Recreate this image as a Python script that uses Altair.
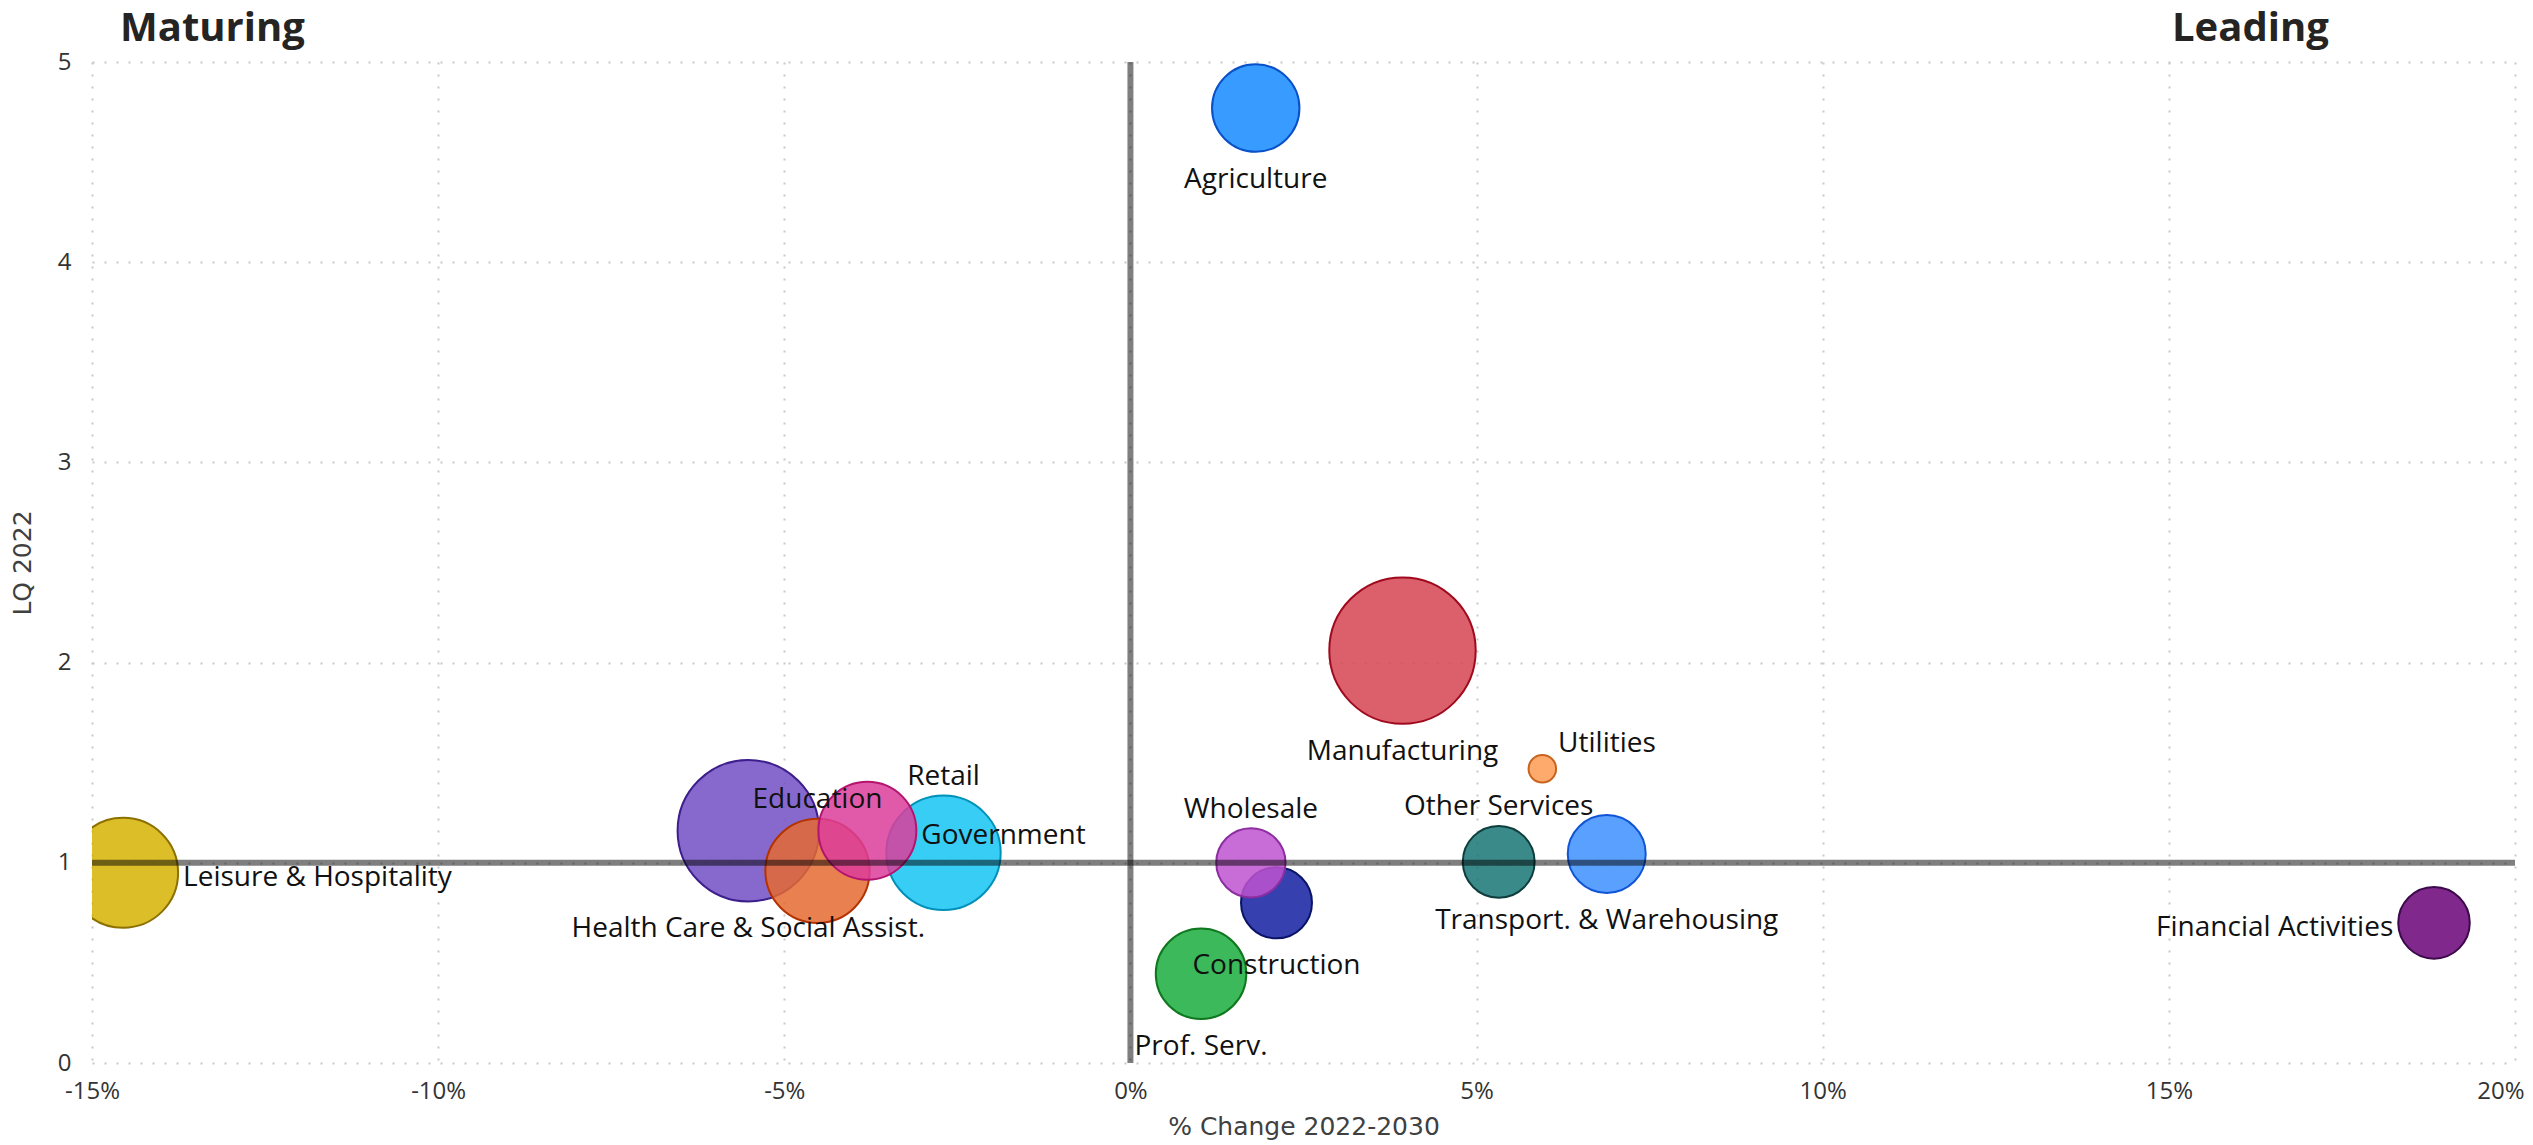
import math
import altair as alt
import pandas as pd

# ---------------- data ----------------
industries = [
    "Agriculture", "Manufacturing", "Utilities", "Other Services",
    "Transport. & Warehousing", "Financial Activities", "Construction",
    "Wholesale", "Prof. Serv.", "Health Care & Social Assist.", "Education",
    "Government", "Retail", "Leisure & Hospitality",
]
pct_change = [1.81, 3.93, 5.95, 5.32, 6.88, 18.83, 2.11, 1.74, 1.02,
              -5.52, -4.52, -3.80, -2.70, -14.55]
lq_2022 = [4.77, 2.06, 1.47, 1.005, 1.044, 0.70, 0.80, 1.00, 0.446,
           1.16, 0.96, 1.16, 1.05, 0.95]
employment = [19100, 53600, 1900, 12900, 15200, 12800, 12600, 12000, 20500,
              50000, 27200, 24000, 32700, 30200]
label_side = ["below", "below", "above-right", "above", "below", "left",
              "below", "above", "below", "below", "above", "right", "above",
              "right"]
fill_seen = ["#379BFF", "#DC606B", "#FFAA6E", "#3A8A8A", "#5AA0FF", "#80288C",
             "#3741AF", "#C86ED7", "#3CB95A", "#8769CD", "#E88050", "#E15AAA",
             "#37CDF5", "#DCBE28"]
stroke_hex = ["#0A50C8", "#A00A1E", "#C8641E", "#0F3C3C", "#1055D5", "#3C0A4B",
              "#0A1466", "#8C2DA0", "#0F781E", "#3C1E8C", "#B43200", "#B4146E",
              "#0091B9", "#8C7000"]
x_ticks = [-15, -10, -5, 0, 5, 10, 15, 20]
y_ticks = [0, 1, 2, 3, 4, 5]
quadrant_names = ["Maturing", "Leading"]
ref_x = [0]
ref_y = [1]

# ---------------- layout / style ----------------
W, H = 2423, 1001
MAX_R = 73.2
FILL_OPACITY = 0.85
LABEL_FONT = "Open Sans"
LABEL_SIZE = 28
TICK_SIZE_FONT = 24
TITLE_FONT = "DejaVu Sans"
TITLE_SIZE = 25


def base_color(hex_seen, a=FILL_OPACITY):
    h = hex_seen.lstrip("#")
    rgb = [int(h[i:i + 2], 16) for i in (0, 2, 4)]
    out = [max(0, min(255, round((c - 255 * (1 - a)) / a))) for c in rgb]
    return "#%02X%02X%02X" % tuple(out)


max_emp = max(employment)
size_max = (2 * MAX_R) ** 2

rows = []
for i, name in enumerate(industries):
    r = MAX_R * math.sqrt(employment[i] / max_emp)
    side = label_side[i]
    if side == "below":
        al, dx, dy = "center", 0, r + 36
    elif side == "above":
        al, dx, dy = "center", 0, -(r + 10.5)
    elif side == "right":
        al, dx, dy = "left", r + 5, 13
    elif side == "left":
        al, dx, dy = "right", -(r + 5), 13
    else:  # above-right
        al, dx, dy = "left", r + 2, -(r + 2.5)
    rows.append({
        "industry": name,
        "pct": pct_change[i],
        "lq": lq_2022[i],
        "employment": employment[i],
        "fill": base_color(fill_seen[i]),
        "stroke": stroke_hex[i],
        "lbl_align": al,
        "lbl_dx": dx,
        "lbl_dy": dy,
    })
df = pd.DataFrame(rows)

xscale = alt.Scale(domain=[x_ticks[0], x_ticks[-1]], nice=False, zero=False)
yscale = alt.Scale(domain=[y_ticks[0], y_ticks[-1]], nice=False, zero=False)
X_TITLE = "% Change 2022-2030"
Y_TITLE = "LQ 2022"
last_tick_test = "datum.value == %d" % x_ticks[-1]

x_axis = alt.Axis(
    values=x_ticks, labelExpr="datum.value + '%'", labelFlush=False,
    labelOverlap=False, labelPadding=16, labelFont=LABEL_FONT,
    labelFontSize=TICK_SIZE_FONT, labelColor="#333333",
    labelAlign=alt.condition(last_tick_test, alt.value("right"),
                             alt.value("center")),
    labelOffset=alt.condition(last_tick_test, alt.value(9), alt.value(0)),
    titleFont=TITLE_FONT, titleFontSize=TITLE_SIZE, titleFontWeight="normal",
    titleColor="#404040", titleY=71, titleBaseline="alphabetic",
)
y_axis = alt.Axis(
    values=y_ticks, format="d", labelPadding=21, labelFont=LABEL_FONT,
    labelFontSize=TICK_SIZE_FONT, labelColor="#333333", labelFlush=False,
    labelOverlap=False,
    titleFont=TITLE_FONT, titleFontSize=TITLE_SIZE, titleFontWeight="normal",
    titleColor="#404040", titleX=-62, titleY=H / 2, titleAngle=270,
    titleBaseline="alphabetic", titleAlign="center",
)

base = alt.Chart(df)

bubbles = base.mark_circle(
    opacity=1, fillOpacity=FILL_OPACITY, strokeOpacity=1, strokeWidth=2,
    clip=True,
).encode(
    x=alt.X("pct:Q", scale=xscale, axis=x_axis, title=X_TITLE),
    y=alt.Y("lq:Q", scale=yscale, axis=y_axis, title=Y_TITLE),
    size=alt.Size("employment:Q",
                  scale=alt.Scale(domain=[0, max_emp], range=[0, size_max]),
                  legend=None),
    color=alt.Color("fill:N", scale=None),
    stroke=alt.Stroke("stroke:N", scale=None),
    order=alt.Order("employment:Q", sort="descending"),
)

vline = alt.Chart(pd.DataFrame({"pct": ref_x})).mark_rule(
    color="black", opacity=0.5, strokeWidth=6
).encode(x=alt.X("pct:Q", scale=xscale, title=X_TITLE))

hline = alt.Chart(pd.DataFrame({"lq": ref_y})).mark_rule(
    color="black", opacity=0.5, strokeWidth=6
).encode(y=alt.Y("lq:Q", scale=yscale, title=Y_TITLE))

labels = base.mark_text(
    font=LABEL_FONT, fontSize=LABEL_SIZE, color="#111111",
    baseline="alphabetic",
    align=alt.ExprRef(expr="datum.lbl_align"),
    dx=alt.ExprRef(expr="datum.lbl_dx"),
    dy=alt.ExprRef(expr="datum.lbl_dy"),
).encode(
    x=alt.X("pct:Q", scale=xscale, title=X_TITLE),
    y=alt.Y("lq:Q", scale=yscale, title=Y_TITLE),
    text="industry:N",
)

mat = alt.Chart(pd.DataFrame({"t": [quadrant_names[0]]})).mark_text(
    font="Open Sans", fontSize=40, fontWeight="bold", color="#252423",
    align="left", baseline="alphabetic",
).encode(x=alt.value(28), y=alt.value(-21), text="t:N")

lead = alt.Chart(pd.DataFrame({"t": [quadrant_names[1]]})).mark_text(
    font="Open Sans", fontSize=40, fontWeight="bold", color="#252423",
    align="left", baseline="alphabetic",
).encode(x=alt.value(2080), y=alt.value(-21), text="t:N")

chart = alt.layer(bubbles, vline, hline, labels, mat, lead).properties(
    width=W, height=H,
    autosize=alt.AutoSizeParams(type="none"),
    padding={"left": 84, "top": 54, "right": 10, "bottom": 80},
).configure_view(stroke=None).configure_axis(
    domain=False, ticks=False, tickSize=0, grid=True,
    gridColor="#c8c8c8", gridDash=[2, 10], gridWidth=2,
)

chart.save("out.html", embed_options={"renderer": "svg", "actions": False})
